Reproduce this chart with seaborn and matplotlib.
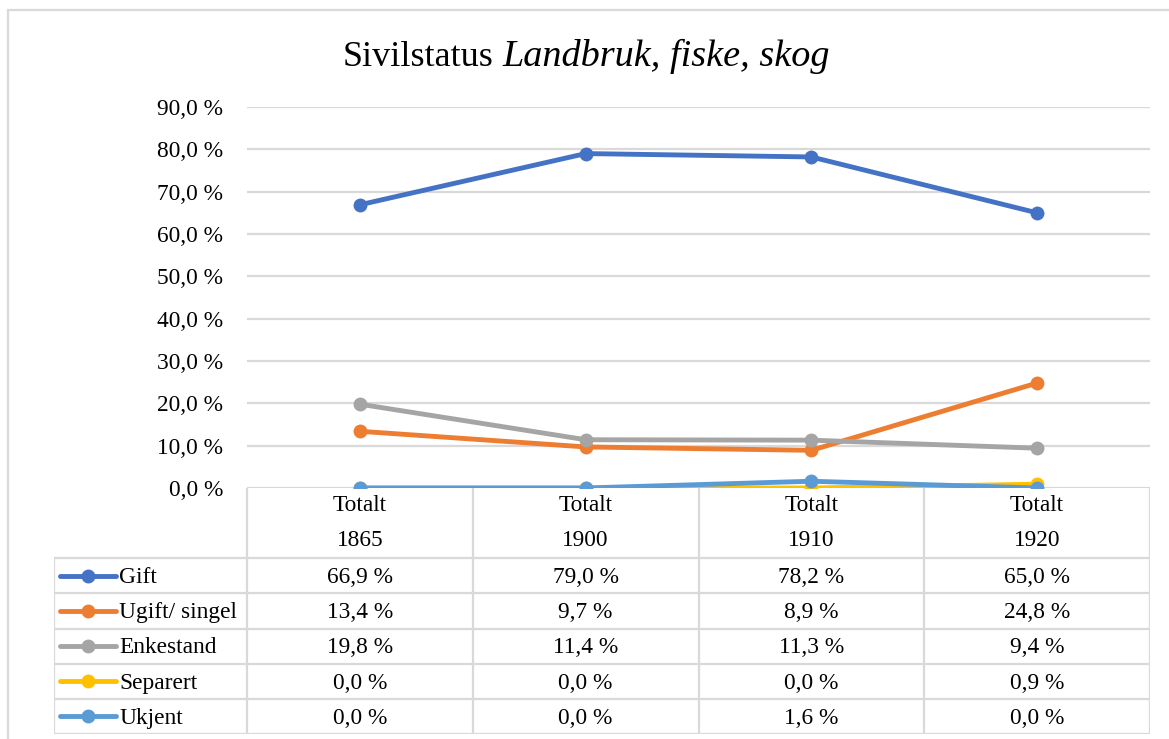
import pandas as pd
import matplotlib.pyplot as plt
from matplotlib.patches import Rectangle
from matplotlib.lines import Line2D
import seaborn as sns

# data
years = ["1865", "1900", "1910", "1920"]
series = ["Gift", "Ugift/ singel", "Enkestand", "Separert", "Ukjent"]
gift = [66.9, 79.0, 78.2, 65.0]
ugift = [13.4, 9.7, 8.9, 24.8]
enkestand = [19.8, 11.4, 11.3, 9.4]
separert = [0.0, 0.0, 0.0, 0.9]
ukjent = [0.0, 0.0, 1.6, 0.0]
yticks = [0, 10, 20, 30, 40, 50, 60, 70, 80, 90]
colors = ["#4472C4", "#ED7D31", "#A5A5A5", "#FFC000", "#5B9BD5"]

values = [gift, ugift, enkestand, separert, ukjent]
df = pd.DataFrame({
    "pos": list(range(len(years))) * len(series),
    "serie": [s for s in series for _ in years],
    "verdi": [v for vals in values for v in vals],
})

sns.set_style("white")
plt.rcParams['font.family'] = ['Liberation Serif', 'DejaVu Serif']
plt.rcParams['font.size'] = 16.8
plt.rcParams['text.color'] = 'black'
plt.rcParams['ytick.color'] = 'black'
plt.rcParams['ytick.labelcolor'] = 'black'
grid_c = "#d9d9d9"

fig = plt.figure(figsize=(11.69, 7.39), dpi=100)

# outer chart border
fig.patches.append(Rectangle((8 / 1169, -0.1), 1.2, 1.1 - 10 / 739,
                             transform=fig.transFigure, fill=False,
                             edgecolor=grid_c, linewidth=1.6))

ax = fig.add_axes([247 / 1169, 1 - 488 / 739, 903 / 1169, 381 / 739])
for i, s in enumerate(series):
    sns.lineplot(data=df[df["serie"] == s], x="pos", y="verdi",
                 color=colors[i], linewidth=3.5, marker="o", markersize=10,
                 markeredgewidth=0, ax=ax, zorder=3 + i, legend=False)

ax.set_xlim(-0.5, len(years) - 0.5)
ax.set_ylim(0, 90)
ax.set_yticks(yticks)
ax.set_yticklabels([f"{t:.1f}".replace(".", ",") + " %" for t in yticks])
ax.set_xticks([])
ax.tick_params(axis="y", length=0, pad=17, labelcolor="black")
ax.set_xlabel("")
ax.set_ylabel("")
for t in yticks:
    ax.axhline(t, color=grid_c, linewidth=1.6, zorder=1)
for sp in ax.spines.values():
    sp.set_visible(False)
ax.set_facecolor("none")

# data table below the chart
tab = fig.add_axes([54 / 1169, 5 / 739, 1096 / 1169, 246 / 739])
left = -0.5 - 193 / 225.7
tab.set_xlim(left, len(years) - 0.5)
tab.set_ylim(7, 0)
tab.axis("off")
for xv in [k - 0.5 for k in range(len(years) + 1)]:
    tab.plot([xv, xv], [0, 7], color=grid_c, linewidth=1.6)
tab.plot([left, left], [2, 7], color=grid_c, linewidth=1.6)
for yv in range(2, 8):
    tab.plot([left, len(years) - 0.5], [yv, yv], color=grid_c, linewidth=1.6)

for k, yr in enumerate(years):
    tab.text(k, 0.5, "Totalt", ha="center", va="center")
    tab.text(k, 1.5, yr, ha="center", va="center")

for i, s in enumerate(series):
    yc = 2.5 + i
    tab.add_line(Line2D([left + 6 / 225.7, left + 62 / 225.7], [yc, yc],
                        color=colors[i], linewidth=3.5))
    tab.plot([left + 34 / 225.7], [yc], marker="o", markersize=10,
             markeredgewidth=0, color=colors[i])
    tab.text(left + 65 / 225.7, yc + 0.05, s, ha="left", va="center")
    for k, v in enumerate(values[i]):
        tab.text(k, yc + 0.05, f"{v:.1f}".replace(".", ",") + " %",
                 ha="center", va="center")

# title with italic part
fig.text(493 / 1169, 1 - 66 / 739, "Sivilstatus", fontsize=26,
         ha="right", va="baseline")
fig.text(502 / 1169, 1 - 66 / 739, "Landbruk, fiske, skog", fontsize=27.5,
         style="italic", ha="left", va="baseline")

fig.savefig("out.png", dpi=100)
